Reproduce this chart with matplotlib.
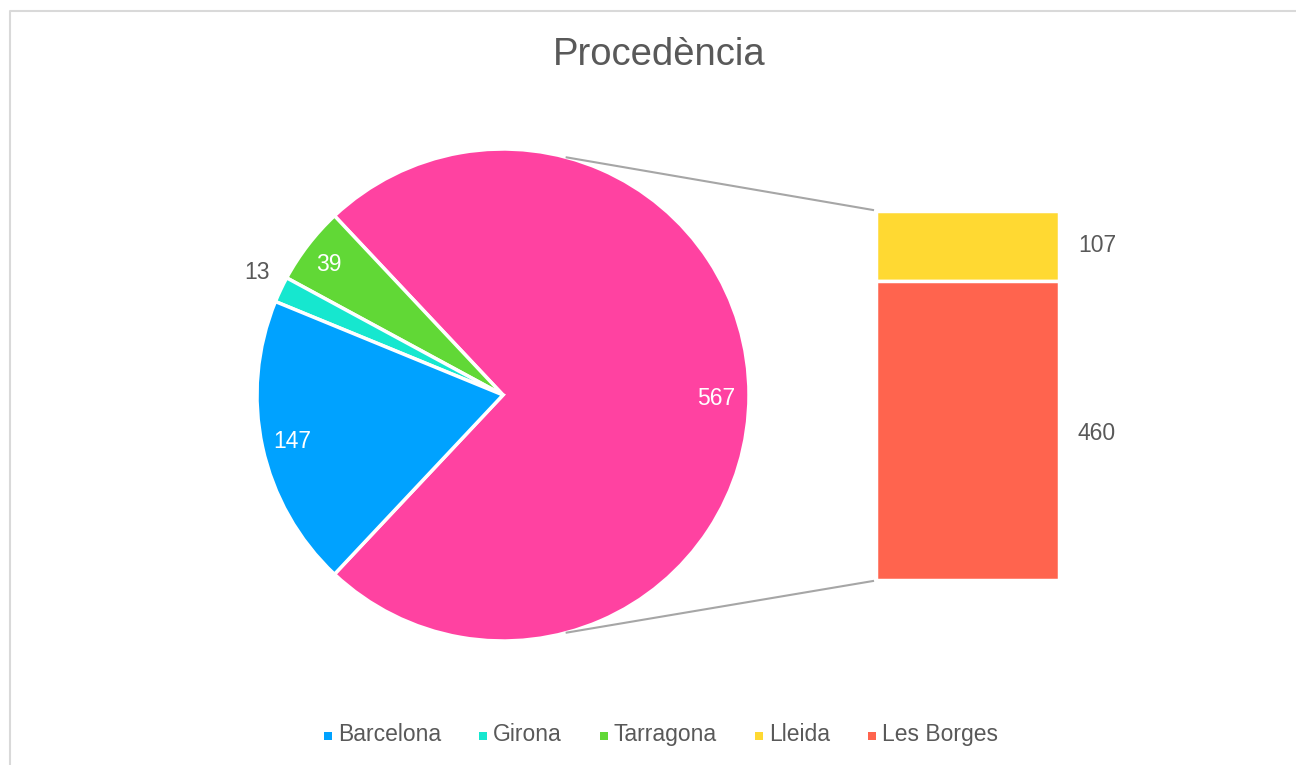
import matplotlib
matplotlib.use("Agg")
import matplotlib.pyplot as plt
import numpy as np

plt.rcParams['font.family'] = ['Liberation Sans', 'DejaVu Sans']

title = "Procedència"
pie_labels = ["Barcelona", "Girona", "Tarragona"]
pie_values = [147, 13, 39]
bar_labels = ["Lleida", "Les Borges"]
bar_values = [107, 460]
colors = {"Barcelona": "#00A2FF", "Girona": "#16E7CF", "Tarragona": "#61D836",
          "Lleida": "#FFD932", "Les Borges": "#FF644E", "other": "#FF42A1"}
text_color = "#595959"

W, H = 1296, 765
fig = plt.figure(figsize=(W / 100, H / 100), dpi=100)
ax = fig.add_axes([0, 0, 1, 1])
ax.set_xlim(0, W)
ax.set_ylim(0, H)
ax.set_aspect('equal')
ax.axis('off')

# border (chart area)
ax.plot([10, 10, W + 5], [-5, H - 10.5, H - 10.5], color="#D9D9D9", lw=1.5, zorder=0)

other = sum(bar_values)
total = other + sum(pie_values)
cx, cy, r = 503, 370, 246
vals = [other, pie_values[2], pie_values[1], pie_values[0]]
cols = [colors["other"], colors["Tarragona"], colors["Girona"], colors["Barcelona"]]
start = -other / total * 180
wedges, _ = ax.pie(vals, colors=cols, startangle=start, center=(cx, cy), radius=r,
                   wedgeprops=dict(edgecolor="white", linewidth=2.5), frame=True)
ax.set_xlim(0, W)
ax.set_ylim(0, H)
ax.axis('off')

# bar of pie
bx, bw = 876, 183
by0 = 765 - 580
scale = 369 / other
bottoms = [by0 + bar_values[1] * scale, by0]
heights = [bar_values[0] * scale, bar_values[1] * scale]
ax.bar([bx + bw / 2] * 2, heights, width=bw, bottom=bottoms,
       color=[colors["Lleida"], colors["Les Borges"]], edgecolor="white", linewidth=2.5)

# connector lines
a = np.deg2rad(75)
ax.plot([cx + r * np.cos(a), bx - 3], [cy + r * np.sin(a), by0 + other * scale + 1],
        color="#A6A6A6", lw=1.5)
ax.plot([cx + r * np.cos(a), bx - 3], [cy - r * np.sin(a), by0 - 1],
        color="#A6A6A6", lw=1.5)

fs = 16.5
# data labels
ax.text(716, H - 398, str(other), color="white", fontsize=fs, ha="center", va="center")
ax.text(292, H - 441, str(pie_values[0]), color="white", fontsize=fs, ha="center", va="center")
ax.text(329, H - 264, str(pie_values[2]), color="white", fontsize=fs, ha="center", va="center")
ax.text(257, H - 272, str(pie_values[1]), color=text_color, fontsize=fs, ha="center", va="center")
ax.text(1097, H - 245, str(bar_values[0]), color=text_color, fontsize=fs, ha="center", va="center")
ax.text(1097, H - 433, str(bar_values[1]), color=text_color, fontsize=fs, ha="center", va="center")

ax.text(659, H - 55, title, color=text_color, fontsize=27.5, ha="center", va="center")

# legend laid out manually so all labels share one baseline
names = pie_labels + bar_labels
fig.canvas.draw()
renderer = fig.canvas.get_renderer()
msize, mgap, cgap = 8, 6, 38
texts = []
widths = []
for n in names:
    t = ax.text(0, 0, n, fontsize=fs, color=text_color, ha="left", va="baseline")
    widths.append(t.get_window_extent(renderer).width)
    texts.append(t)
total_w = sum(msize + mgap + w for w in widths) + cgap * (len(names) - 1)
x = 661 - total_w / 2
base_y = H - 741
for n, t, w in zip(names, texts, widths):
    ax.add_patch(plt.Rectangle((x, base_y + 1.5), msize, msize, color=colors[n], lw=0))
    t.set_position((x + msize + mgap, base_y))
    x += msize + mgap + w + cgap

fig.savefig("out.png", dpi=100)
